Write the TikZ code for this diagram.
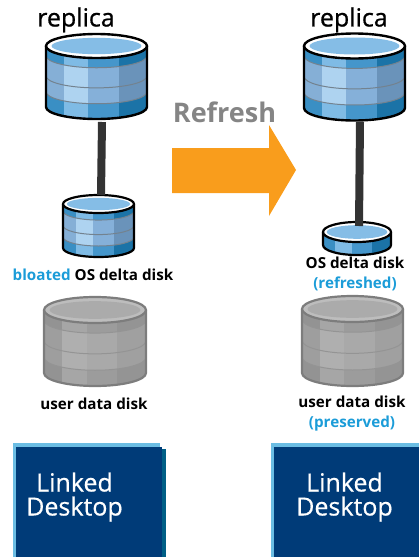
\documentclass[tikz,border=0pt]{standalone}
\usepackage{fontspec}
\setmainfont{Open Sans}
\definecolor{blueA}{HTML}{3A8FC4}\definecolor{blueB}{HTML}{7FBBE5}\definecolor{blueC}{HTML}{4596CB}\definecolor{blueD}{HTML}{1B73A7}
\definecolor{blueE}{HTML}{85AFD6}\definecolor{blueF}{HTML}{AED3F0}\definecolor{blueG}{HTML}{85B0D9}\definecolor{blueH}{HTML}{6A93BA}
\definecolor{blueLine}{HTML}{73828F}\definecolor{blueRing}{HTML}{FFFFFF}\definecolor{blueTop}{HTML}{85BDE6}
\definecolor{grayA}{HTML}{939393}\definecolor{grayB}{HTML}{A6A6A6}\definecolor{grayC}{HTML}{9C9C9C}\definecolor{grayD}{HTML}{949494}
\definecolor{grayE}{HTML}{9E9E9E}\definecolor{grayF}{HTML}{AFAFAF}\definecolor{grayG}{HTML}{A9A9A9}\definecolor{grayH}{HTML}{A0A0A0}
\definecolor{grayLine}{HTML}{949494}\definecolor{grayRing}{HTML}{BDBDBD}\definecolor{grayTop}{HTML}{ABABAB}\definecolor{grayEdge}{HTML}{7D7D7D}
\definecolor{capblue}{HTML}{1B9CD8}\definecolor{arroworange}{HTML}{F99D1C}\definecolor{refreshgray}{HTML}{858585}
\definecolor{boxblue}{HTML}{003B78}\definecolor{boxlight}{HTML}{6BBDE3}\definecolor{boxteal}{HTML}{005F86}\definecolor{stemgray}{HTML}{333333}
% #1 name, #2 left, #3 right, #4 top centre y, #5 bottom centre y, #6 ry, #7 colour set, #8 outline, #9 width
\newcommand{\dbdisk}[9]{%
  \pgfmathsetmacro{\dbrx}{(#3-#2)/2}\pgfmathsetmacro{\dbcx}{(#3+#2)/2}\pgfmathsetmacro{\dbh}{#5-#4}
  \pgfmathsetmacro{\dba}{#2+.18*(#3-#2)}\pgfmathsetmacro{\dbb}{#2+.42*(#3-#2)}\pgfmathsetmacro{\dbc}{#2+.72*(#3-#2)}
  \begin{scope}
    \clip (#2,#4) -- (#2,#5) arc[start angle=180,end angle=0,x radius=\dbrx,y radius=#6] -- (#3,#4) -- cycle;
    \fill[#7A] (#2,#4-#6) rectangle (\dba,#5+#6);
    \fill[#7B] (\dba,#4-#6) rectangle (\dbb,#5+#6);
    \fill[#7C] (\dbb,#4-#6) rectangle (\dbc,#5+#6);
    \fill[#7D] (\dbc,#4-#6) rectangle (#3,#5+#6);
    \ifdim\dbh pt>20pt
      \pgfmathsetmacro{\dbp}{#4+.16*\dbh}\pgfmathsetmacro{\dbq}{#4+.49*\dbh}\pgfmathsetmacro{\dbs}{#4+.75*\dbh}
      \begin{scope}
        \clip (#2,\dbp) arc[start angle=180,end angle=0,x radius=\dbrx,y radius=#6] -- (#3,\dbs) arc[start angle=0,end angle=180,x radius=\dbrx,y radius=#6] -- cycle;
        \fill[#7E] (#2,#4) rectangle (\dba,#5+#6);
        \fill[#7F] (\dba,#4) rectangle (\dbb,#5+#6);
        \fill[#7G] (\dbb,#4) rectangle (\dbc,#5+#6);
        \fill[#7H] (\dbc,#4) rectangle (#3,#5+#6);
      \end{scope}
      \draw[#7Line,line width=1pt] (#2,\dbp) arc[start angle=180,end angle=0,x radius=\dbrx,y radius=#6];
      \draw[#7Line,line width=1pt] (#2,\dbq) arc[start angle=180,end angle=0,x radius=\dbrx,y radius=#6];
      \draw[#7Line,line width=1pt] (#2,\dbs) arc[start angle=180,end angle=0,x radius=\dbrx,y radius=#6];
    \fi
  \end{scope}
  \draw[#8,line width=#9pt] (#2,#4) -- (#2,#5) arc[start angle=180,end angle=0,x radius=\dbrx,y radius=#6] -- (#3,#4);
  \fill[#7Ring] (\dbcx,#4) ellipse[x radius=\dbrx,y radius=#6];
  \fill[#7Top] (\dbcx,#4) ellipse[x radius=.89*\dbrx,y radius=.68*#6];
  \draw[#8,line width=#9pt] (\dbcx,#4) ellipse[x radius=\dbrx,y radius=#6];
  \coordinate (#1 top) at (\dbcx,#4-#6);
  \coordinate (#1 bottom) at (\dbcx,#5+#6);
}
\tikzset{
  lbl/.style={font=\fontsize{15.2}{20}\selectfont\bfseries,align=center,inner sep=0pt},
  replicalbl/.style={font=\fontsize{25}{28}\selectfont\addfontfeatures{FakeBold=0.8},inner sep=0pt},
  stemline/.style={stemgray,line width=8pt},
  boxtext/.style={font=\fontsize{25}{24}\selectfont\addfontfeatures{FakeBold=0.6},text=white,align=center,inner sep=0pt}
}
\begin{document}
\begin{tikzpicture}[x=1pt,y=-1pt]
\useasboundingbox (0,0) rectangle (419,557);
% arrow
\fill[arroworange] (172,148) -- (269,148) -- (269,125) -- (296,170) -- (269,216) -- (269,193) -- (172,193) -- cycle;
\node[font=\fontsize{27}{30}\selectfont\bfseries,text=refreshgray,inner sep=0pt] (refresh) at (224.5,112) {Refresh};
% left column
\node[replicalbl] (repL) at (76,20) {replica};
\dbdisk{diskA}{46}{147}{46}{107}{12}{blue}{black}{2.4}
\dbdisk{diskB}{63}{134}{204}{248}{9}{blue}{black}{2.2}
\coordinate (stemAtop) at (102,122);
\coordinate (stemAbot) at (101,195);
\draw[stemline] (stemAtop) -- (stemAbot);
\node[lbl] (bloated) at (93,275) {\textcolor{capblue}{bloated} OS delta disk};
\dbdisk{diskC}{44}{146}{310}{373}{13}{gray}{grayEdge}{2.2}
\node[lbl] (userL) at (94,404) {user data disk};
% right column
\node[replicalbl] (repR) at (349,20) {replica};
\dbdisk{diskD}{304}{405}{46}{108}{12.5}{blue}{black}{2.4}
\dbdisk{diskE}{323}{391}{232}{245}{10}{blue}{black}{2.2}
\coordinate (stemBtop) at (360,122);
\coordinate (stemBbot) at (359,226);
\draw[stemline] (stemBtop) -- (stemBbot);
\node[lbl] (osdelta) at (355,274) {OS delta disk\\\textcolor{capblue}{(refreshed)}};
\dbdisk{diskF}{302}{403}{309}{373}{13}{gray}{grayEdge}{2.2}
\node[lbl] (userR) at (352,414) {user data disk\\\textcolor{capblue}{(preserved)}};
% desktop boxes
\fill[boxlight] (13,443) rectangle (160,557);
\fill[boxteal] (160,449) rectangle (166,557);
\fill[boxblue] (16,447) rectangle (162,557);
\node[boxtext] (deskL) at (74.5,497) {Linked\\Desktop};
\fill[boxlight] (271,443) rectangle (419,557);
\fill[boxblue] (274,447) rectangle (419,557);
\node[boxtext] (deskR) at (344.5,497) {Linked\\Desktop};
\end{tikzpicture}
\end{document}
